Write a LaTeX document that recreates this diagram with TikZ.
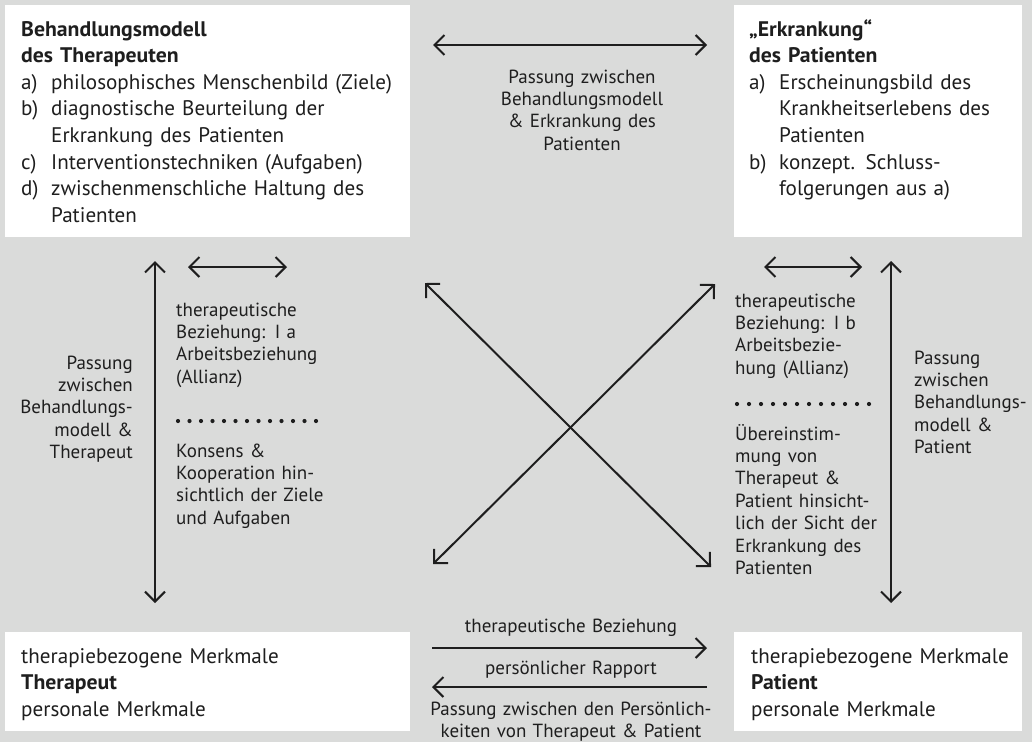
\documentclass[tikz,border=0pt]{standalone}
\usepackage{fontspec}
\setmainfont{PT Sans}[BoldFeatures={FakeStretch=1.03}]
\usetikzlibrary{arrows.meta}
\definecolor{bg}{RGB}{218,219,218}
\definecolor{ink}{RGB}{30,30,30}
\newcommand{\itemlbl}[1]{\makebox[30pt][l]{#1}}
\newcommand{\itemind}{\hspace*{30pt}}
\tikzset{
  box/.style={fill=white, draw=none, inner sep=0pt, anchor=north west},
  boxtxt/.style={inner sep=0pt, text=ink, font=\fontsize{21.1}{26.6}\selectfont, align=left, text width=#1, anchor=base west},
  boxtxt/.default=380pt,
  midtxt/.style={inner sep=0pt, text=ink, font=\fontsize{19}{22.4}\selectfont, align=left, text width=#1, anchor=base west},
  midtxt/.default=200pt,
  midtxtr/.style={inner sep=0pt, text=ink, font=\fontsize{19}{22.4}\selectfont, align=right, text width=#1, anchor=base east},
  midtxtc/.style={inner sep=0pt, text=ink, font=\fontsize{19}{22.4}\selectfont, align=center, text width=#1, anchor=base},
  arr/.style={draw=ink, line width=2pt, >={Straight Barb[length=10pt,width=20pt]}},
  dot/.style={fill=ink, draw=none},
}
\begin{document}
\begin{tikzpicture}[x=1pt,y=-1pt]
\useasboundingbox (0,0) rectangle (1032,742);
\fill[bg] (0,0) rectangle (1032,742);

% boxes
\node[box, minimum width=405pt, minimum height=232pt] (tl) at (5,5) {};
\node[box, minimum width=288pt, minimum height=232pt] (tr) at (734,5) {};
\node[box, minimum width=405pt, minimum height=99pt] (bl) at (5,632) {};
\node[box, minimum width=288pt, minimum height=99pt] (br) at (734,632) {};

% box texts
\node[boxtxt=385pt] (tltext) at (21,36) {\textbf{Behandlungsmodell}\\
\textbf{des Therapeuten}\\
\itemlbl{a)}philosophisches Menschenbild (Ziele)\\
\itemlbl{b)}diagnostische Beurteilung der\\
\itemind Erkrankung des Patienten\\
\itemlbl{c)}Interventionstechniken (Aufgaben)\\
\itemlbl{d)}zwischenmenschliche Haltung des\\
\itemind Patienten};

\node[boxtxt=270pt] (trtext) at (749,36) {\textbf{„Erkrankung“}\\
\textbf{des Patienten}\\
\itemlbl{a)}Erscheinungsbild des\\
\itemind Krankheitserlebens des\\
\itemind Patienten\\
\itemlbl{b)}konzept. Schluss-\\
\itemind folgerungen aus a)};

\node[boxtxt=385pt] (bltext) at (21,663) {therapiebezogene Merkmale\\
\textbf{Therapeut}\\
personale Merkmale};

\node[boxtxt=270pt] (brtext) at (751,663) {therapiebezogene Merkmale\\
\textbf{Patient}\\
personale Merkmale};

% top middle
\coordinate (tma) at (433,45);
\coordinate (tmb) at (707,45);
\draw[arr,<->] (tma) -- (tmb);
\node[midtxtc=260pt] (tmtext) at (582,83) {Passung zwischen\\
Behandlungsmodell\\
\& Erkrankung des\\
Patienten};

% left side
\coordinate (lva) at (155,261);
\coordinate (lvb) at (155,603);
\draw[arr,<->] (lva) -- (lvb);
\node[midtxtr=130pt] (lvtext) at (133,369) {Passung\\
zwischen\\
Behandlungs-\\
modell \&\\
Therapeut};

\coordinate (lha) at (188,267);
\coordinate (lhb) at (287,267);
\draw[arr,<->] (lha) -- (lhb);
\node[midtxt] (lt1) at (176,316) {therapeutische\\
Beziehung: I a\\
Arbeitsbeziehung\\
(Allianz)};
\foreach \i in {0,...,12} \fill[dot] (178+\i*11.5,421) circle (2.1pt);
\node[midtxt] (lt2) at (176,457) {Konsens \&\\
Kooperation hin-\\
sichtlich der Ziele\\
und Aufgaben};

% right side
\coordinate (rva) at (891,261);
\coordinate (rvb) at (891,603);
\draw[arr,<->] (rva) -- (rvb);
\node[midtxt=120pt] (rvtext) at (914,364) {Passung\\
zwischen\\
Behandlungs-\\
modell \&\\
Patient};

\coordinate (rha) at (764,267);
\coordinate (rhb) at (862,267);
\draw[arr,<->] (rha) -- (rhb);
\node[midtxt=150pt] (rt1) at (735,307) {therapeutische\\
Beziehung: I b\\
Arbeitsbezie-\\
hung (Allianz)};
\foreach \i in {0,...,11} \fill[dot] (737+\i*12,404) circle (2.1pt);
\node[midtxt=150pt] (rt2) at (735,440) {Übereinstim-\\
mung von\\
Therapeut \&\\
Patient hinsicht-\\
lich der Sicht der\\
Erkrankung des\\
Patienten};

% cross
\coordinate (cnw) at (425,283);
\coordinate (cse) at (711,567);
\coordinate (cne) at (715,284);
\coordinate (csw) at (433,564);
\draw[arr,<->] (cnw) -- (cse);
\draw[arr,<->] (cne) -- (csw);

% bottom middle
\node[midtxtc=300pt] (bt1) at (571,632) {therapeutische Beziehung};
\coordinate (b1a) at (432,648);
\coordinate (b1b) at (707,648);
\draw[arr,->] (b1a) -- (b1b);
\node[midtxtc=300pt] (bt2) at (571,674) {persönlicher Rapport};
\coordinate (b2a) at (707,687);
\coordinate (b2b) at (432,687);
\draw[arr,->] (b2a) -- (b2b);
\node[midtxtc=320pt] (bt3) at (571,715) {Passung zwischen den Persönlich-\\
keiten von Therapeut \& Patient};
\end{tikzpicture}
\end{document}
